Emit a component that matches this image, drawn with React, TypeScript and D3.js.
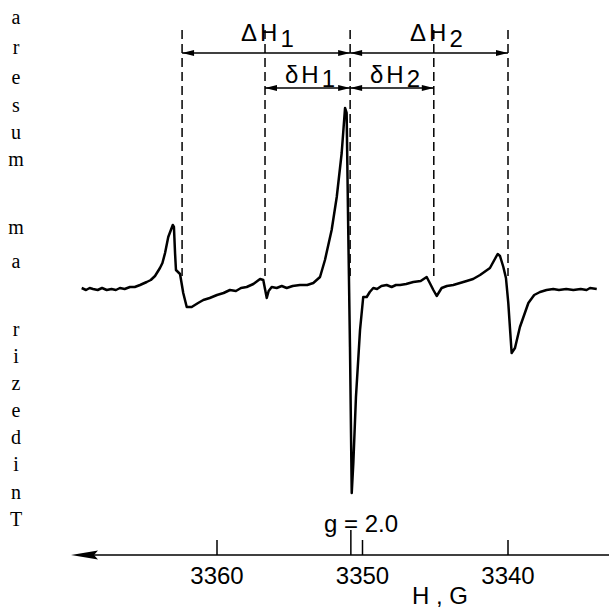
import React from "react";
import * as d3 from "d3";

const fieldG = [3369.3,3369.0,3368.75,3368.52,3368.2,3367.9,3367.58,3367.25,3366.95,3366.67,3366.35,3365.98,3365.65,3365.29,3364.83,3364.55,3364.26,3363.92,3363.75,3363.57,3363.35,3363.04,3362.96,3362.88,3362.82,3362.54,3362.32,3362.08,3361.74,3361.3,3360.94,3360.5,3360.0,3359.55,3359.11,3358.7,3358.35,3357.96,3357.5,3357.04,3356.82,3356.7,3356.58,3356.45,3356.24,3355.9,3355.55,3355.21,3354.8,3354.3,3353.8,3353.38,3352.92,3352.58,3352.12,3351.77,3351.43,3351.2,3351.09,3350.98,3350.86,3350.74,3350.63,3350.45,3350.17,3349.95,3349.71,3349.5,3349.26,3349.0,3348.7,3348.34,3348.0,3347.7,3347.42,3347.0,3346.51,3346.0,3345.59,3345.41,3345.13,3344.9,3344.56,3344.2,3343.76,3343.3,3342.84,3342.4,3341.92,3341.24,3340.71,3340.55,3340.32,3340.14,3339.98,3339.75,3339.52,3339.18,3338.6,3338.2,3337.8,3337.35,3336.89,3336.5,3336.0,3335.51,3335.0,3334.6,3334.36,3333.9];
const signal = [0.01,-0.01,0.01,0.0,-0.01,0.01,-0.01,0.0,-0.01,0.01,0.0,0.02,0.02,0.04,0.07,0.09,0.13,0.21,0.26,0.36,0.52,0.64,0.62,0.35,0.19,0.15,-0.04,-0.18,-0.18,-0.14,-0.11,-0.09,-0.06,-0.04,-0.01,-0.02,0.01,0.02,0.05,0.1,0.09,0.0,-0.09,-0.02,0.02,0.01,0.03,0.01,0.03,0.04,0.04,0.06,0.12,0.29,0.59,0.92,1.36,1.81,1.76,0.59,-0.58,-2.04,-1.74,-1.08,-0.41,-0.08,-0.08,-0.03,0.01,0.0,0.03,0.04,0.02,0.04,0.04,0.05,0.07,0.08,0.12,0.07,-0.01,-0.07,0.01,0.03,0.04,0.06,0.08,0.1,0.14,0.21,0.35,0.33,0.22,0.11,-0.14,-0.64,-0.59,-0.38,-0.14,-0.06,-0.03,-0.01,0.0,-0.01,0.0,-0.01,0.0,-0.01,0.01,0.0];

const tickValues = [3360, 3350, 3340];
const gFactorField = 3350.8;
const markerFields = [3362.4, 3356.7, 3350.85, 3345.1, 3340.0];
const sideLetters = ["a","r","e","s","u","m","m","a","r","i","z","e","d","i","n","T"];
const sideLetterY = [24,54,84,112,139,166,234,268,336,363,390,417,444,471,499,526];

const W = 609, H = 608;

export default function App() {
  const x = d3.scaleLinear().domain([3360, 3340]).range([217, 508]);
  const y = d3.scaleLinear().domain([0, 1]).range([289, 189]);
  const pts = fieldG.map((f, i) => [f, signal[i]] as [number, number]);
  const line = d3.line<[number, number]>().x(d => x(d[0])).y(d => y(d[1]));
  const axisY = 555;
  const font = "'Liberation Sans', Arial, Helvetica, sans-serif";
  const [m0, m1, m2, m3, m4] = markerFields.map(f => x(f));
  const rowA = 53, rowB = 88;

  const arrowHead = (xt: number, yy: number, dir: number, key: string) => {
    const L = 12, hw = 3;
    return (
      <path key={key} d={`M${xt},${yy} L${xt - dir * L},${yy - hw} L${xt - dir * L},${yy + hw} Z`} fill="#000" />
    );
  };
  const dimArrow = (xa: number, xb: number, yy: number, key: string) => (
    <g key={key}>
      <line x1={xa} x2={xb} y1={yy} y2={yy} stroke="#000" strokeWidth={1.5} />
      {arrowHead(xa, yy, -1, key + "a")}
      {arrowHead(xb, yy, 1, key + "b")}
    </g>
  );

  return (
    <svg width={W} height={H} style={{ position: "absolute", left: 0, top: 0, background: "#fff" }}>
      <rect width={W} height={H} fill="#fff" />
      {sideLetters.map((c, i) => (
        <text key={i} x={16} y={sideLetterY[i]} textAnchor="middle" fontFamily="'Liberation Serif', 'Times New Roman', serif" fontSize={20} fill="#000">{c}</text>
      ))}
      {markerFields.map((f, i) => (
        <line key={i} x1={x(f)} x2={x(f)} y1={30} y2={276} stroke="#000" strokeWidth={1.5} strokeDasharray="9,5" />
      ))}
      {dimArrow(m0, m2, rowA, "A1")}
      {dimArrow(m2, m4, rowA, "A2")}
      {dimArrow(m1, m2, rowB, "B1")}
      {dimArrow(m2, m3, rowB, "B2")}
      <g fontFamily={font} fontSize={24} fill="#000">
        <text x={241} y={41}>Δ<tspan dx={3}>H</tspan><tspan dx={3} dy={6}>1</tspan></text>
        <text x={410} y={41}>Δ<tspan dx={3}>H</tspan><tspan dx={3} dy={6}>2</tspan></text>
        <text x={285} y={83}>δ<tspan dx={3}>H</tspan><tspan dx={3} dy={4}>1</tspan></text>
        <text x={370} y={83}>δ<tspan dx={3}>H</tspan><tspan dx={3} dy={4}>2</tspan></text>
      </g>
      <path d={line(pts) || ""} fill="none" stroke="#000" strokeWidth={2.5} strokeLinejoin="round" />
      <line x1={90} x2={W} y1={axisY} y2={axisY} stroke="#000" strokeWidth={1.7} />
      <path d={`M71,${axisY} L98,${axisY - 4.5} L94,${axisY} L98,${axisY + 4.5} Z`} fill="#000" />
      {tickValues.map(t => (
        <g key={t}>
          <line x1={x(t)} x2={x(t)} y1={axisY} y2={axisY - 15} stroke="#000" strokeWidth={1.5} />
          <text x={x(t)} y={584} textAnchor="middle" fontFamily={font} fontSize={24} fill="#000">{t}</text>
        </g>
      ))}
      <line x1={x(gFactorField)} x2={x(gFactorField)} y1={axisY} y2={axisY - 25} stroke="#000" strokeWidth={1.5} />
      <text x={361} y={532} textAnchor="middle" fontFamily={font} fontSize={24} fill="#000">g = 2.0</text>
      <text x={412} y={604} fontFamily={font} fontSize={24} fill="#000">H , G</text>
    </svg>
  );
}
